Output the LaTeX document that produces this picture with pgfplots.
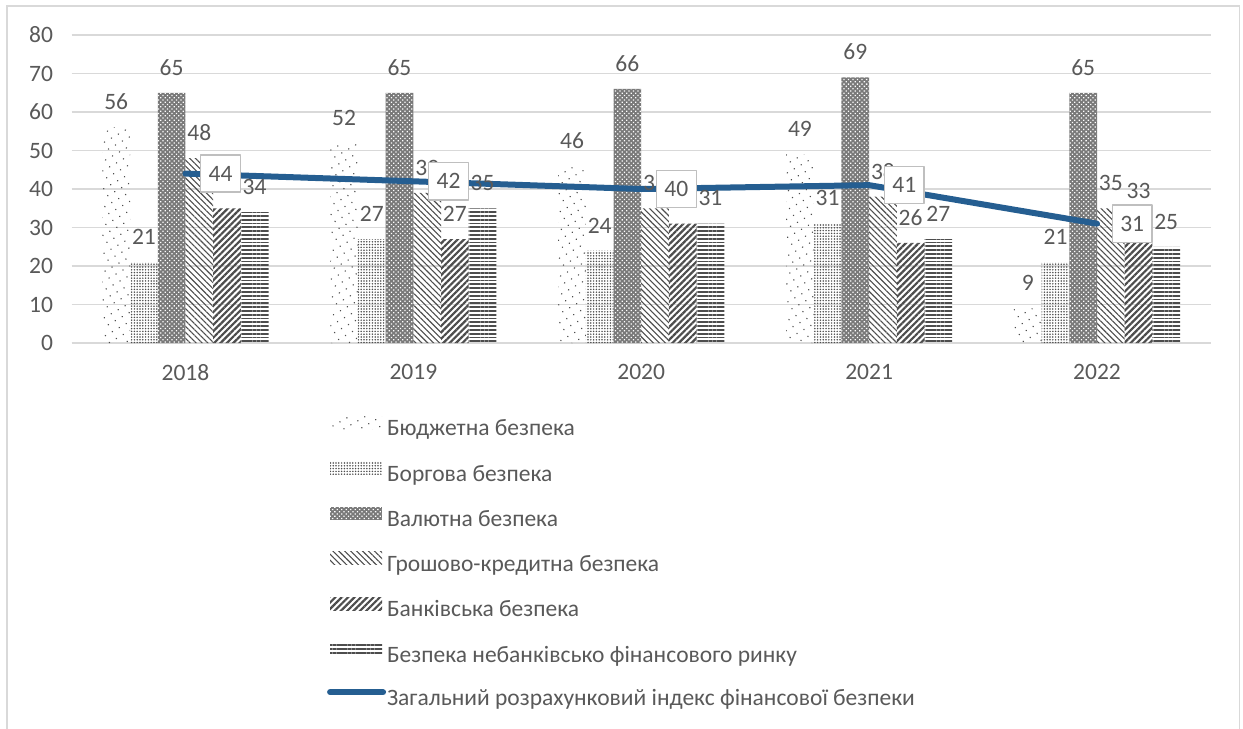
\documentclass[border=0pt]{standalone}
\usepackage{fontspec}
\setmainfont{Carlito}
\usepackage{pgfplots}
\pgfplotsset{compat=1.18}
\usetikzlibrary{patterns.meta}
\definecolor{txt}{HTML}{595959}
\definecolor{gridc}{HTML}{D9D9D9}
\definecolor{lineblue}{HTML}{255E91}
\definecolor{pat}{HTML}{4D4D4D}
\definecolor{boxgray}{HTML}{BFBFBF}
\newcommand{\cf}{\fontsize{23.5bp}{27bp}\selectfont}
\pgfplotsset{
  barleg/.style={legend image code/.code={\path[##1, draw=none] (0bp,1bp) rectangle (52bp,14bp);}},
  lineleg/.style={legend image code/.code={\draw[##1, line cap=round] (0bp,7bp) -- (53bp,7bp);}},
  barlab/.style={nodes near coords, every node near coord/.append style={font=\cf, text=txt, yshift=14bp, xshift=#1}},
}
\begin{document}
\begin{tikzpicture}[font=\cf, text=txt]
\useasboundingbox (-71.5bp,-386bp) rectangle (1171.5bp,343bp);
\draw[gridc, line width=1.5bp] (-64.5bp,-386bp) -- (-64.5bp,337bp) -- (1168bp,337bp) -- (1168bp,-386bp);
\begin{axis}[
  scale only axis, width=1139.5bp, height=308bp,
  xmin=-0.5, xmax=4.5, ymin=0, ymax=80,
  xtick={0,1,2,3,4}, xticklabels={2018,2019,2020,2021,2022},
  ytick={0,10,...,80},
  major tick length=0pt,
  axis x line*=bottom, axis y line*=left,
  x axis line style={gridc, line width=1.5bp, -},
  y axis line style={draw=none},
  ymajorgrids, grid style={gridc, line width=1.5bp},
  /pgf/number format/assume math mode=true,
  ticklabel style={font=\cf, text=txt},
  yticklabel style={xshift=-15bp},
  xticklabel style={yshift=-18bp},
  bar width=0.1215,
  legend cell align=left,
  legend style={at={(0.2243,-0.237)}, anchor=north west, draw=none, fill=none,
    inner sep=0pt, outer sep=0pt, row sep=19.5bp, font=\cf, text=txt,
    nodes={inner sep=1bp, text height=16.5bp, text depth=5bp}},
]
% Budget
\addplot[ybar, bar shift=-0.30375, draw=none, pattern={Dots[radius=0.8bp, distance=8bp, angle=30]}, pattern color=pat, barlab=-69.2bp, barleg]
  coordinates {(0,56) (1,52) (2,46) (3,49) (4,9)};
\addlegendentry{Бюджетна безпека}
% Debt
\addplot[ybar, bar shift=-0.18225, draw=none, pattern={Dots[radius=0.85bp, distance=2.8bp]}, pattern color=pat, barlab=-41.5bp, barleg]
  coordinates {(0,21) (1,27) (2,24) (3,31) (4,21)};
\addlegendentry{Боргова безпека}
% Currency
\addplot[ybar, bar shift=-0.06075, draw=none, fill=pat!75, postaction={pattern={Dots[radius=0.9bp, distance=3.2bp, angle=45]}, pattern color=white}, barlab=-13.85bp, barleg]
  coordinates {(0,65) (1,65) (2,66) (3,69) (4,65)};
\addlegendentry{Валютна безпека}
% Monetary
\addplot[ybar, bar shift=0.06075, draw=none, pattern={Lines[angle=-45, distance=4.2bp, line width=1.1bp]}, pattern color=pat, barlab=13.85bp, barleg]
  coordinates {(0,48) (1,39) (2,35) (3,38) (4,35)};
\addlegendentry{Грошово-кредитна безпека}
% Bank
\addplot[ybar, bar shift=0.18225, draw=none, pattern={Lines[angle=45, distance=4.5bp, line width=2.2bp]}, pattern color=pat, barlab=41.5bp, barleg]
  coordinates {(0,35) (1,27) (2,31) (3,26) (4,33)};
\addlegendentry{Банківська безпека}
% Non-bank
\addplot[ybar, bar shift=0.30375, draw=none, pattern={Lines[angle=0, distance=3.8bp, line width=1.8bp]}, pattern color=pat, barlab=69.2bp, barleg]
  coordinates {(0,34) (1,35) (2,31) (3,27) (4,25)};
\addlegendentry{Безпека небанківсько фінансового ринку}
% Index
\addplot[sharp plot, color=lineblue, line width=6bp, line cap=round, line join=round, mark=none,
  nodes near coords, every node near coord/.append style={anchor=west, xshift=14.5bp, draw=boxgray, line width=1.5bp, fill=white, inner xsep=8bp, inner ysep=11bp, text=txt, font=\cf},
  lineleg]
  coordinates {(0,44) (1,42) (2,40) (3,41) (4,31)};
\addlegendentry{Загальний розрахунковий індекс фінансової безпеки}
\end{axis}
\end{tikzpicture}
\end{document}
